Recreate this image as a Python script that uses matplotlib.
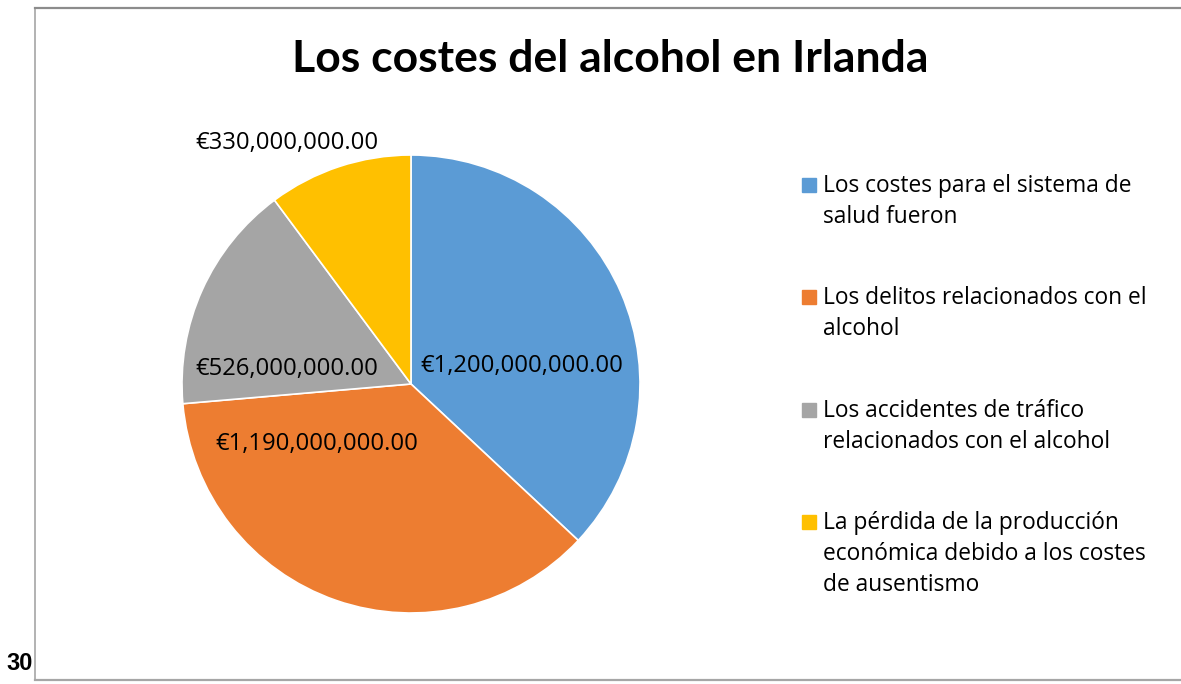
import matplotlib
matplotlib.use("Agg")
import matplotlib.pyplot as plt
from matplotlib.patches import Rectangle
from matplotlib.lines import Line2D

title = "Los costes del alcohol en Irlanda"
categories = [
    "Los costes para el sistema de\nsalud fueron",
    "Los delitos relacionados con el\nalcohol",
    "Los accidentes de tráfico\nrelacionados con el alcohol",
    "La pérdida de la producción\neconómica debido a los costes\nde ausentismo",
]
values = [1200000000.00, 1190000000.00, 526000000.00, 330000000.00]
colors = ["#5B9BD5", "#ED7D31", "#A5A5A5", "#FFC000"]
label_pos = [(0.485, 0.079), (-0.410, -0.262), (-0.541, 0.066), (-0.541, 1.052)]

W, H = 1181, 684
fig = plt.figure(figsize=(W / 100, H / 100), dpi=100)
fig.patch.set_facecolor("white")
FONT = "Open Sans"

def fx(px):
    return px / W

def fy(py):
    return 1 - py / H

# border
fig.add_artist(Line2D([fx(34.5), fx(34.5)], [fy(8), fy(680)], color="#A6A6A6", lw=1.2))
fig.add_artist(Line2D([fx(34.5), fx(1181)], [fy(7.5), fy(7.5)], color="#8C8C8C", lw=1.6))
fig.add_artist(Line2D([fx(34.5), fx(1181)], [fy(680), fy(680)], color="#A6A6A6", lw=1.6))

# pie
cx, cy, r = 411, 384, 229
ax = fig.add_axes([fx(cx - r), fy(cy + r), (2 * r) / W, (2 * r) / H])
ax.pie(values, colors=colors, startangle=90, counterclock=False, radius=1,
       wedgeprops=dict(edgecolor="white", linewidth=1.2))
ax.set_xlim(-1, 1)
ax.set_ylim(-1, 1)
ax.set_aspect("equal")
ax.axis("off")
for v, (x, y) in zip(values, label_pos):
    ax.text(x, y, "€{:,.2f}".format(v), ha="center", va="center",
            fontsize=17.2, family=FONT, color="black")

# title
fig.text(fx(610), fy(59), title, ha="center", va="center", fontsize=32,
         fontweight="bold", family="Lato", color="black")

# legend
base = 192
line_h = 30.7
gap = 51
for cat, col in zip(categories, colors):
    lines = cat.split("\n")
    fig.add_artist(Rectangle((fx(802), fy(base)), 14 / W, 14 / H, color=col,
                             transform=fig.transFigure))
    for i, ln in enumerate(lines):
        fig.text(fx(823), fy(base + i * line_h), ln, ha="left", va="baseline",
                 fontsize=16.4, family=FONT, color="black")
    base += len(lines) * line_h + gap

# page number
fig.text(fx(33), fy(663), "30", ha="right", va="center", fontsize=17,
         fontweight="bold", family="Liberation Sans", color="black")

fig.savefig("out.png", dpi=100)
